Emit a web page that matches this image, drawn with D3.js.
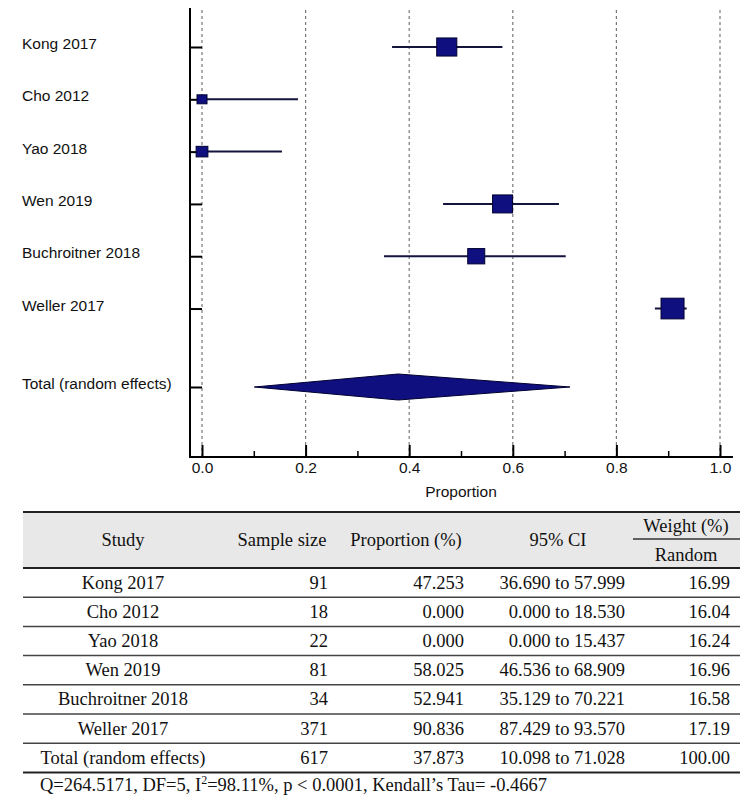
<!DOCTYPE html>
<html lang="en">
<head>
<meta charset="UTF-8" />
<title>Forest plot</title>
<script src="https://cdn.jsdelivr.net/npm/d3@7/dist/d3.min.js"></script>
<style>
  body { margin: 0; background: #fff; }
  svg { display: block; }
  .lab { font-family: Arial, "Liberation Sans", sans-serif; font-size: 15.5px; fill: #111; }
  .tbl { font-family: "Times New Roman", "Liberation Serif", serif; font-size: 18.5px; fill: #111; }
</style>
</head>
<body>
<script>
const studies = ['Kong 2017', 'Cho 2012', 'Yao 2018', 'Wen 2019', 'Buchroitner 2018', 'Weller 2017'];
const sampleSize = [91, 18, 22, 81, 34, 371];
const proportion = [47.253, 0.000, 0.000, 58.025, 52.941, 90.836];
const ciLow = [36.690, 0.000, 0.000, 46.536, 35.129, 87.429];
const ciHigh = [57.999, 18.530, 15.437, 68.909, 70.221, 93.570];
const weightRandom = [16.99, 16.04, 16.24, 16.96, 16.58, 17.19];

const totalLabel = 'Total (random effects)';
const totalN = 617;
const totalProp = 37.873;
const totalLow = 10.098;
const totalHigh = 71.028;
const totalWeight = 100.00;

const xTicks = [0, 0.2, 0.4, 0.6, 0.8, 1.0];
const xMinor = [0.1, 0.3, 0.5, 0.7, 0.9];

const W = 747, H = 805;
const svg = d3.select('body').append('svg').attr('width', W).attr('height', H);

// ---------- forest plot ----------
const axisX = 190, axisY = 457;
const x = d3.scaleLinear().domain([0, 1]).range([202, 720]);
const rowIdx = studies.map((d, i) => i).concat([6.5]);
const y = d3.scaleLinear().domain([0, 6.5]).range([47, 387]);
const box = d3.scaleLinear().domain([18, 34, 81, 371]).range([10, 17, 20, 23]).clamp(true);

const navy = '#0f0f80';

// dashed grid
svg.append('g').selectAll('line').data(xTicks).join('line')
  .attr('x1', d => x(d)).attr('x2', d => x(d))
  .attr('y1', 10).attr('y2', axisY)
  .attr('stroke', '#777').attr('stroke-width', 1.2).attr('stroke-dasharray', '3,3');

// x axis
const gx = svg.append('g').attr('transform', `translate(0,${axisY})`)
  .call(d3.axisBottom(x).tickValues(xTicks).tickFormat(d3.format('.1f')).tickSize(-12).tickSizeOuter(0).tickPadding(5));
gx.select('.domain').remove();
gx.selectAll('.tick line').attr('stroke', '#000').attr('stroke-width', 2);
gx.selectAll('.tick text').attr('class', 'lab').attr('font-size', null).attr('font-family', null);

const gm = svg.append('g').attr('transform', `translate(0,${axisY})`)
  .call(d3.axisBottom(x).tickValues(xMinor).tickFormat('').tickSize(-6).tickSizeOuter(0));
gm.select('.domain').remove();
gm.selectAll('.tick line').attr('stroke', '#000').attr('stroke-width', 1.5);

svg.append('line').attr('x1', axisX - 1).attr('x2', 733).attr('y1', axisY).attr('y2', axisY)
  .attr('stroke', '#000').attr('stroke-width', 2);

svg.append('text').attr('class', 'lab').attr('x', 461).attr('y', 497)
  .attr('text-anchor', 'middle').text('Proportion');

// y axis
const gy = svg.append('g').attr('transform', `translate(${axisX},0)`)
  .call(d3.axisLeft(y).tickValues(rowIdx)
    .tickFormat(d => d === 6.5 ? totalLabel : studies[d])
    .tickSize(-12).tickSizeOuter(0).tickPadding(0));
gy.select('.domain').remove();
gy.selectAll('.tick line').attr('stroke', '#000').attr('stroke-width', 2);
gy.selectAll('.tick text').attr('class', 'lab').attr('font-size', null).attr('font-family', null)
  .attr('text-anchor', 'start').attr('x', 22 - axisX).attr('dy', '0.1em');

svg.append('line').attr('x1', axisX).attr('x2', axisX).attr('y1', 8).attr('y2', axisY + 1)
  .attr('stroke', '#000').attr('stroke-width', 2);

// CI lines
svg.append('g').selectAll('line').data(studies).join('line')
  .attr('x1', (d, i) => x(ciLow[i] / 100)).attr('x2', (d, i) => x(ciHigh[i] / 100))
  .attr('y1', (d, i) => y(i)).attr('y2', (d, i) => y(i))
  .attr('stroke', '#14143c').attr('stroke-width', 2);

// boxes
svg.append('g').selectAll('rect').data(studies).join('rect')
  .attr('x', (d, i) => x(proportion[i] / 100) - box(sampleSize[i]) / 2)
  .attr('y', (d, i) => y(i) - box(sampleSize[i]) * 0.9 / 2)
  .attr('width', (d, i) => box(sampleSize[i]))
  .attr('height', (d, i) => box(sampleSize[i]) * 0.9)
  .attr('fill', navy).attr('stroke', '#000030').attr('stroke-width', 1);

// diamond
const ty = y(6.5), dh = 13;
svg.append('polygon')
  .attr('points', [
    [x(totalLow / 100), ty], [x(totalProp / 100), ty - dh],
    [x(totalHigh / 100), ty], [x(totalProp / 100), ty + dh]
  ].map(p => p.join(',')).join(' '))
  .attr('fill', navy).attr('stroke', '#000030').attr('stroke-width', 1);

// ---------- table ----------
const tL = 23, tR = 740;
const tTop = 512, hBot = 568, rowH = 29.2;
const rowsAll = studies.map((s, i) => ({
  s, n: sampleSize[i], p: proportion[i], lo: ciLow[i], hi: ciHigh[i], w: weightRandom[i]
})).concat([{ s: totalLabel, n: totalN, p: totalProp, lo: totalLow, hi: totalHigh, w: totalWeight }]);
const tBot = hBot + rowH * rowsAll.length;

svg.append('rect').attr('x', tL).attr('y', tTop).attr('width', tR - tL).attr('height', hBot - tTop)
  .attr('fill', '#e8e8e8');

const hdr = svg.append('g').attr('class', 'tbl');
const hy = (tTop + hBot) / 2 + 6;
hdr.append('text').attr('x', 123).attr('y', hy).attr('text-anchor', 'middle').text('Study');
hdr.append('text').attr('x', 282).attr('y', hy).attr('text-anchor', 'middle').text('Sample size');
hdr.append('text').attr('x', 406).attr('y', hy).attr('text-anchor', 'middle').text('Proportion (%)');
hdr.append('text').attr('x', 558).attr('y', hy).attr('text-anchor', 'middle').text('95% CI');
hdr.append('text').attr('x', 686).attr('y', 532).attr('text-anchor', 'middle').text('Weight (%)');
hdr.append('text').attr('x', 686).attr('y', 561).attr('text-anchor', 'middle').text('Random');
svg.append('line').attr('x1', 633).attr('x2', tR).attr('y1', 539).attr('y2', 539)
  .attr('stroke', '#333').attr('stroke-width', 1.5);

const fmt3 = d3.format('.3f'), fmt2 = d3.format('.2f');
const rows = svg.append('g').attr('class', 'tbl').selectAll('g').data(rowsAll).join('g')
  .attr('transform', (d, i) => `translate(0,${hBot + rowH * i + rowH / 2 + 6})`);
rows.append('text').attr('x', 123).attr('text-anchor', 'middle').text(d => d.s);
rows.append('text').attr('x', 328).attr('text-anchor', 'end').text(d => d.n);
rows.append('text').attr('x', 464).attr('text-anchor', 'end').text(d => fmt3(d.p));
rows.append('text').attr('x', 625).attr('text-anchor', 'end').text(d => `${fmt3(d.lo)} to ${fmt3(d.hi)}`);
rows.append('text').attr('x', 730).attr('text-anchor', 'end').text(d => fmt2(d.w));

// rules
svg.append('g').selectAll('line').data(d3.range(1, rowsAll.length)).join('line')
  .attr('x1', tL).attr('x2', tR)
  .attr('y1', i => hBot + rowH * i).attr('y2', i => hBot + rowH * i)
  .attr('stroke', '#444').attr('stroke-width', 1.5);
svg.append('g').selectAll('line').data([tTop, hBot, tBot]).join('line')
  .attr('x1', tL).attr('x2', tR).attr('y1', d => d).attr('y2', d => d)
  .attr('stroke', '#222').attr('stroke-width', 2);

// footer
const foot = svg.append('text').attr('class', 'tbl').attr('x', 40).attr('y', 791);
foot.append('tspan').text('Q=264.5171, DF=5, I');
foot.append('tspan').attr('font-size', 12).attr('dy', -7).text('2');
foot.append('tspan').attr('dy', 7).text('=98.11%, p < 0.0001, Kendall\u2019s Tau= -0.4667');
</script>
</body>
</html>
